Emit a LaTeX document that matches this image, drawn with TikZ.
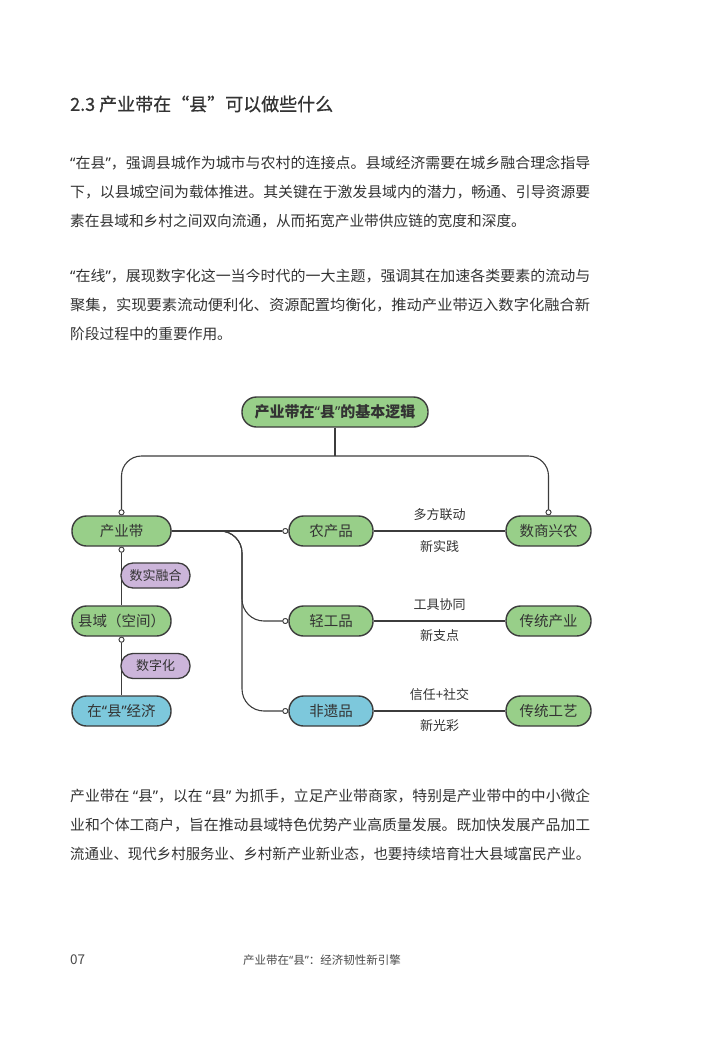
\documentclass[tikz,border=0pt]{standalone}
\usepackage{fontspec}
\usepackage{graphicx}
\setmainfont{Noto Sans CJK SC}
\newfontfamily\cjkmed[FakeBold=0.6]{Noto Sans CJK SC}
\newfontfamily\lat{Noto Sans}
\newcommand{\nlq}{{\lat “}}
\newcommand{\nrq}{{\lat ”}}
\usetikzlibrary{calc}
\definecolor{txt}{HTML}{333333}
\definecolor{linec}{HTML}{3C3C3C}
\definecolor{gfill}{HTML}{98CF89}
\definecolor{bfill}{HTML}{7DC8DC}
\definecolor{pfill}{HTML}{CCB5DA}
\definecolor{foot}{HTML}{4A4A4A}
\newcommand{\fullline}[1]{\resizebox{520pt}{\height}{#1}}
\tikzset{
  body/.style={anchor=west, inner sep=0pt, text=txt, font=\fontsize{14.7}{14.7}\selectfont},
  box/.style={draw=linec, line width=1.4pt, rounded corners=14.5pt, minimum height=30pt,
    inner sep=0pt, text=txt, font=\fontsize{14.5}{14.5}\selectfont},
  gbox/.style={box, fill=gfill},
  bbox/.style={box, fill=bfill},
  pbox/.style={draw=linec, line width=1.3pt, rounded corners=12pt, minimum height=25pt,
    minimum width=69pt, inner sep=0pt, fill=pfill, text=txt, font=\fontsize{13}{13}\selectfont},
  conn/.style={draw=linec, line width=1.1pt},
  pin/.style={circle, draw=linec, fill=white, inner sep=0pt, minimum size=5pt, line width=0.8pt},
  lab/.style={text=txt, font=\fontsize{13}{13}\selectfont, inner sep=0pt},
}
\begin{document}
\begin{tikzpicture}[x=1pt,y=-1pt]
\useasboundingbox[fill=white] (0,0) rectangle (710,1041);

% title
\node[anchor=west, inner sep=0pt, text=txt, font=\cjkmed\fontsize{18}{18}\selectfont] (title) at (70,104) {2.3 产业带在“县”可以做些什么};

% paragraph 1
\node[body] (p1a) at (70,163) {\fullline{\nlq 在县\nrq ，强调县城作为城市与农村的连接点。县域经济需要在城乡融合理念指导}};
\node[body] (p1b) at (70,192) {\fullline{下，以县城空间为载体推进。其关键在于激发县域内的潜力，畅通、引导资源要}};
\node[body] (p1c) at (70,221) {素在县域和乡村之间双向流通，从而拓宽产业带供应链的宽度和深度。};

% paragraph 2
\node[body] (p2a) at (70,276) {\fullline{\nlq 在线\nrq ，展现数字化这一当今时代的一大主题，强调其在加速各类要素的流动与}};
\node[body] (p2b) at (70,305) {\fullline{聚集，实现要素流动便利化、资源配置均衡化，推动产业带迈入数字化融合新}};
\node[body] (p2c) at (70,334) {阶段过程中的重要作用。};

% diagram nodes
\node[gbox, minimum width=186pt, font=\bfseries\fontsize{15}{15}\selectfont] (top) at (335,412) {产业带在{\bfseries\nlq}县{\bfseries\nrq}的基本逻辑};
\node[gbox, minimum width=99pt] (cy) at (121.5,531) {产业带};
\node[gbox, minimum width=84pt] (nc) at (331,531) {农产品};
\node[gbox, minimum width=85pt] (ss) at (548.5,531) {数商兴农};
\node[gbox, minimum width=84pt] (qg) at (331,621) {轻工品};
\node[gbox, minimum width=85pt] (ct) at (548.5,621) {传统产业};
\node[bbox, minimum width=84pt] (fy) at (331,711) {非遗品};
\node[gbox, minimum width=85pt] (cg) at (548.5,711) {传统工艺};
\node[gbox, minimum width=99pt] (xy) at (121.5,621) {县域（空间）};
\node[bbox, minimum width=99pt] (zx) at (121.5,711) {在\nlq 县\nrq 经济};

% pins
\node[pin] (pcy) at ($(cy.north)+(0,-3)$) {};
\node[pin] (pss) at ($(ss.north)+(0,-3)$) {};
\node[pin] (pcyb) at ($(cy.south)+(0,3)$) {};
\node[pin] (pxyb) at ($(xy.south)+(0,3)$) {};
\node[pin] (pnc) at ($(nc.west)+(-3,0)$) {};
\node[pin] (pqg) at ($(qg.west)+(-3,0)$) {};
\node[pin] (pfy) at ($(fy.west)+(-3,0)$) {};

\coordinate (hub) at (335,456);
\coordinate (bus) at (242,531);

% connectors
\draw[conn] (top.south) -- (hub);
\draw[conn, rounded corners=20pt] (hub) -| (pcy.north);
\draw[conn, rounded corners=20pt] (hub) -| (pss.north);
\draw[conn] (pcyb.south) -- (xy.north);
\draw[conn] (pxyb.south) -- (zx.north);
\draw[conn] (cy.east) -- (pnc.west);
\draw[conn, rounded corners=22pt] (cy.east) -| (bus |- qg.west) -- (pqg.west);
\draw[conn, rounded corners=22pt] (cy.east) -| (bus |- fy.west) -- (pfy.west);
\draw[conn] (nc.east) -- (ss.west);
\draw[conn] (qg.east) -- (ct.west);
\draw[conn] (fy.east) -- (cg.west);

% redraw pins on top
\node[pin] at (pcy) {};
\node[pin] at (pss) {};
\node[pin] at (pcyb) {};
\node[pin] at (pxyb) {};
\node[pin] at (pnc) {};
\node[pin] at (pqg) {};
\node[pin] at (pfy) {};

% purple labels on the chain
\node[pbox] (sr) at (155.5,575.5) {数实融合};
\node[pbox] (sz) at (155.5,666) {数字化};

% edge labels
\node[lab] (l1a) at ($(nc.east)!0.5!(ss.west)+(0,-16)$) {多方联动};
\node[lab] (l1b) at ($(nc.east)!0.5!(ss.west)+(0,15)$) {新实践};
\node[lab] (l2a) at ($(qg.east)!0.5!(ct.west)+(0,-16)$) {工具协同};
\node[lab] (l2b) at ($(qg.east)!0.5!(ct.west)+(0,15)$) {新支点};
\node[lab] (l3a) at ($(fy.east)!0.5!(cg.west)+(0,-16)$) {信任+社交};
\node[lab] (l3b) at ($(fy.east)!0.5!(cg.west)+(0,15)$) {新光彩};

% paragraph 3
\node[body] (p3a) at (70,796) {\fullline{产业带在 \nlq 县\nrq ，以在 \nlq 县\nrq{} 为抓手，立足产业带商家，特别是产业带中的中小微企}};
\node[body] (p3b) at (70,825) {\fullline{业和个体工商户，旨在推动县域特色优势产业高质量发展。既加快发展产品加工}};
\node[body] (p3c) at (70,854) {\fullline{流通业、现代乡村服务业、乡村新产业新业态，也要持续培育壮大县域富民产业。}};

% footer
\node[anchor=west, inner sep=0pt, text=foot, font=\fontsize{13.5}{13.5}\selectfont] (pg) at (70,960) {07};
\node[inner sep=0pt, text=foot, font=\fontsize{11.5}{11.5}\selectfont] (ft) at (322,960) {产业带在\nlq 县\nrq ：经济韧性新引擎};
\end{tikzpicture}
\end{document}
